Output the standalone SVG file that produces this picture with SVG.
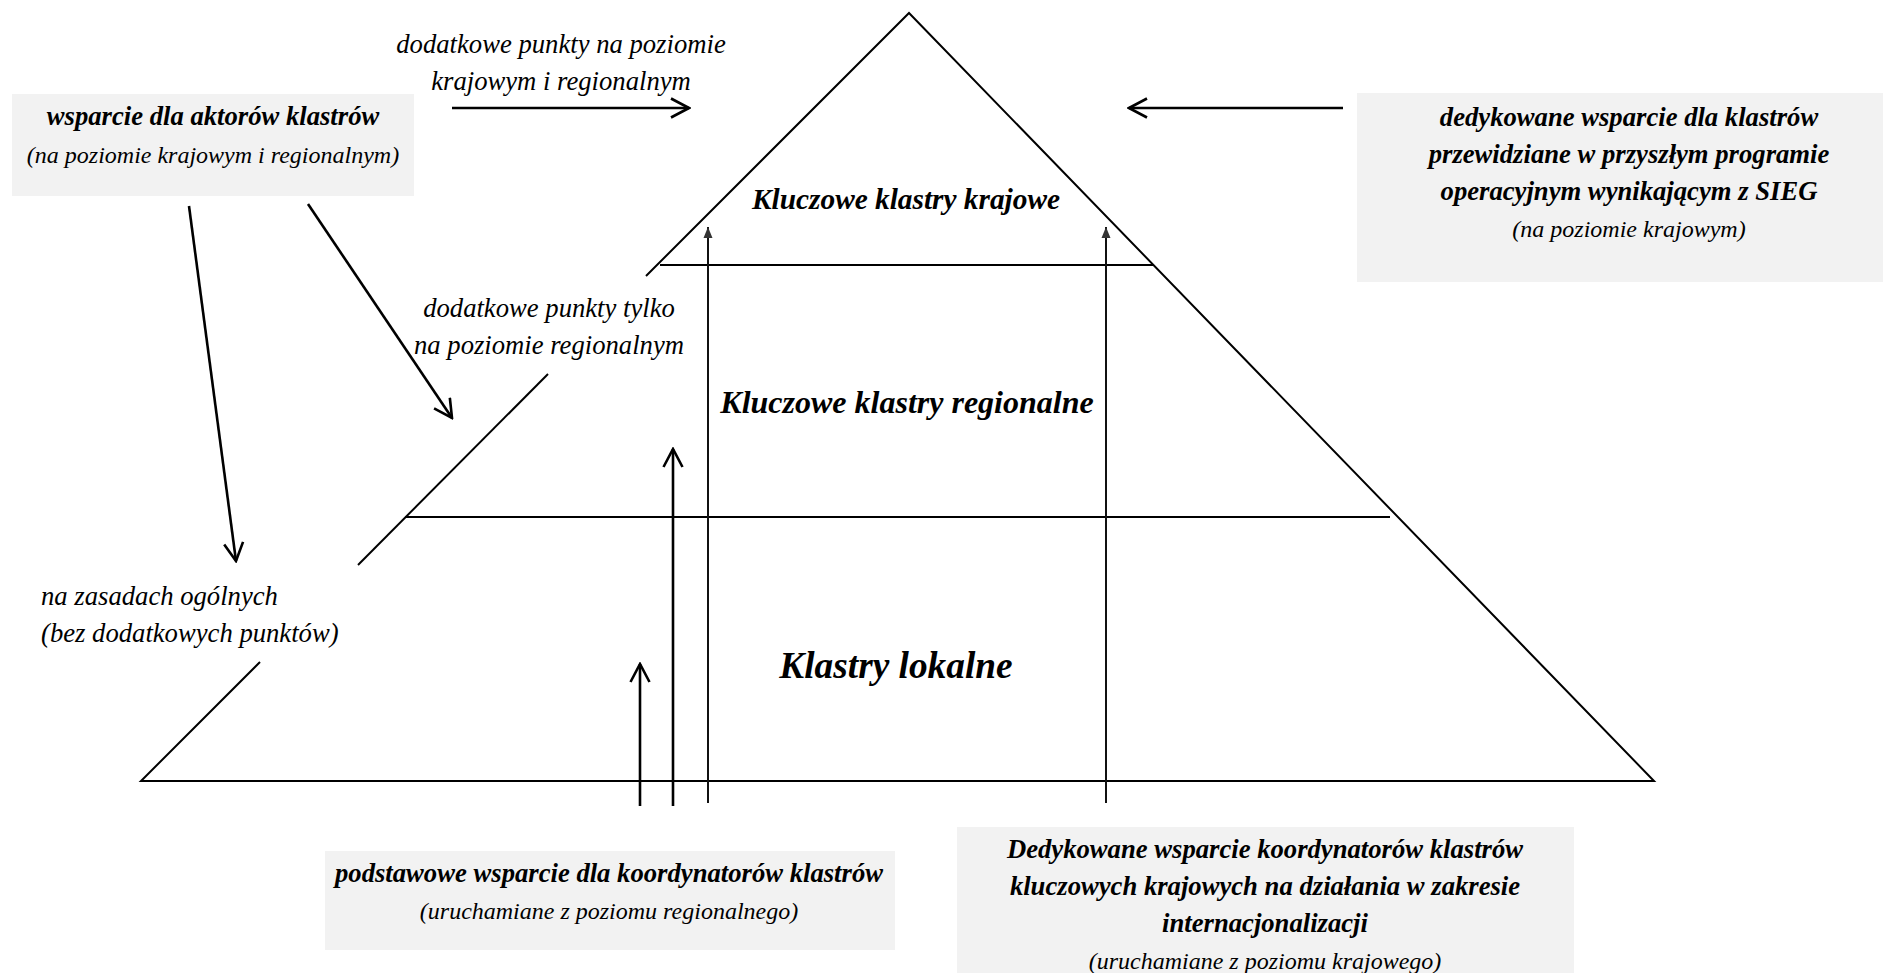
<svg xmlns="http://www.w3.org/2000/svg" width="1883" height="973" viewBox="0 0 1883 973">
<style>
text{font-family:"Liberation Serif","Times New Roman",serif;font-style:italic;fill:#000}
.t{font-weight:bold;font-size:26.67px;text-anchor:middle}
.s{font-size:24px;text-anchor:middle}
.l{font-size:26.67px}
.c{text-anchor:middle}
.box{fill:#f2f2f2;stroke:none}
.edge{stroke:#000;stroke-width:2;fill:none}
.arr{stroke:#000;stroke-width:2.6;fill:none;marker-end:url(#open)}
.thin{stroke:#111;stroke-width:2;fill:none;marker-end:url(#small)}
</style>
<defs>
<marker id="open" viewBox="0 0 22 22" refX="20" refY="11" markerWidth="22" markerHeight="22" markerUnits="userSpaceOnUse" orient="auto">
<path d="M2,1.5 L20,11 L2,20.5" fill="none" stroke="#000" stroke-width="2.6"/>
</marker>
<marker id="small" viewBox="0 0 12 10" refX="11" refY="5" markerWidth="12" markerHeight="10" markerUnits="userSpaceOnUse" orient="auto">
<path d="M0,0.5 L11,5 L0,9.5 Z" fill="#333"/>
</marker>
</defs>
<rect width="1883" height="973" fill="#fff"/>

<g id="pyramid">
<path class="edge" d="M646,276 L909,13 L1654,781 L141,781 L260,662"/>
<path class="edge" d="M548,374 L358,565"/>
<line class="edge" x1="660" y1="265" x2="1154" y2="265"/>
<line class="edge" x1="405" y1="517" x2="1390" y2="517"/>
</g>

<g id="tier-krajowe">
<text class="t" x="906" y="209" style="font-size:29.33px">Kluczowe klastry krajowe</text>
</g>
<g id="tier-regionalne">
<text class="t" x="907" y="413" style="font-size:32px">Kluczowe klastry regionalne</text>
</g>
<g id="tier-lokalne">
<text class="t" x="896" y="678" style="font-size:37.33px">Klastry lokalne</text>
</g>

<g id="box-aktorzy">
<rect class="box" x="12" y="94" width="402" height="102"/>
<text class="t" x="213" y="125">wsparcie dla aktorów klastrów</text>
<text class="s" x="213" y="163">(na poziomie krajowym i regionalnym)</text>
</g>

<g id="box-sieg">
<rect class="box" x="1357" y="93" width="526" height="189"/>
<text class="t" x="1629" y="126">dedykowane wsparcie dla klastrów</text>
<text class="t" x="1629" y="163">przewidziane w przyszłym programie</text>
<text class="t" x="1629" y="200">operacyjnym wynikającym z SIEG</text>
<text class="s" x="1629" y="237">(na poziomie krajowym)</text>
</g>

<g id="box-podstawowe">
<rect class="box" x="325" y="851" width="570" height="99"/>
<text class="t" x="609" y="882">podstawowe wsparcie dla koordynatorów klastrów</text>
<text class="s" x="609" y="919">(uruchamiane z poziomu regionalnego)</text>
</g>

<g id="box-dedykowane">
<rect class="box" x="957" y="827" width="617" height="146"/>
<text class="t" x="1265" y="858">Dedykowane wsparcie koordynatorów klastrów</text>
<text class="t" x="1265" y="895">kluczowych krajowych na działania w zakresie</text>
<text class="t" x="1265" y="932">internacjonalizacji</text>
<text class="s" x="1265" y="969">(uruchamiane z poziomu krajowego)</text>
</g>

<g id="label-krajowe-regionalne">
<text class="l c" x="561" y="53">dodatkowe punkty na poziomie</text>
<text class="l c" x="561" y="90">krajowym i regionalnym</text>
</g>
<g id="label-regionalne">
<text class="l c" x="549" y="317">dodatkowe punkty tylko</text>
<text class="l c" x="549" y="354">na poziomie regionalnym</text>
</g>
<g id="label-ogolne">
<text class="l" x="41" y="605">na zasadach ogólnych</text>
<text class="l" x="41" y="642">(bez dodatkowych punktów)</text>
</g>

<g id="connectors">
<line class="arr" x1="452" y1="108" x2="689" y2="108"/>
<line class="arr" x1="1343" y1="108" x2="1129" y2="108"/>
<line class="arr" x1="189" y1="206" x2="236" y2="561"/>
<line class="arr" x1="308" y1="204" x2="452" y2="418"/>
<line class="arr" x1="640" y1="806" x2="640" y2="664"/>
<line class="arr" x1="673" y1="806" x2="673" y2="449"/>
<line class="thin" x1="708" y1="803" x2="708" y2="227"/>
<line class="thin" x1="1106" y1="803" x2="1106" y2="227"/>
</g>
</svg>
